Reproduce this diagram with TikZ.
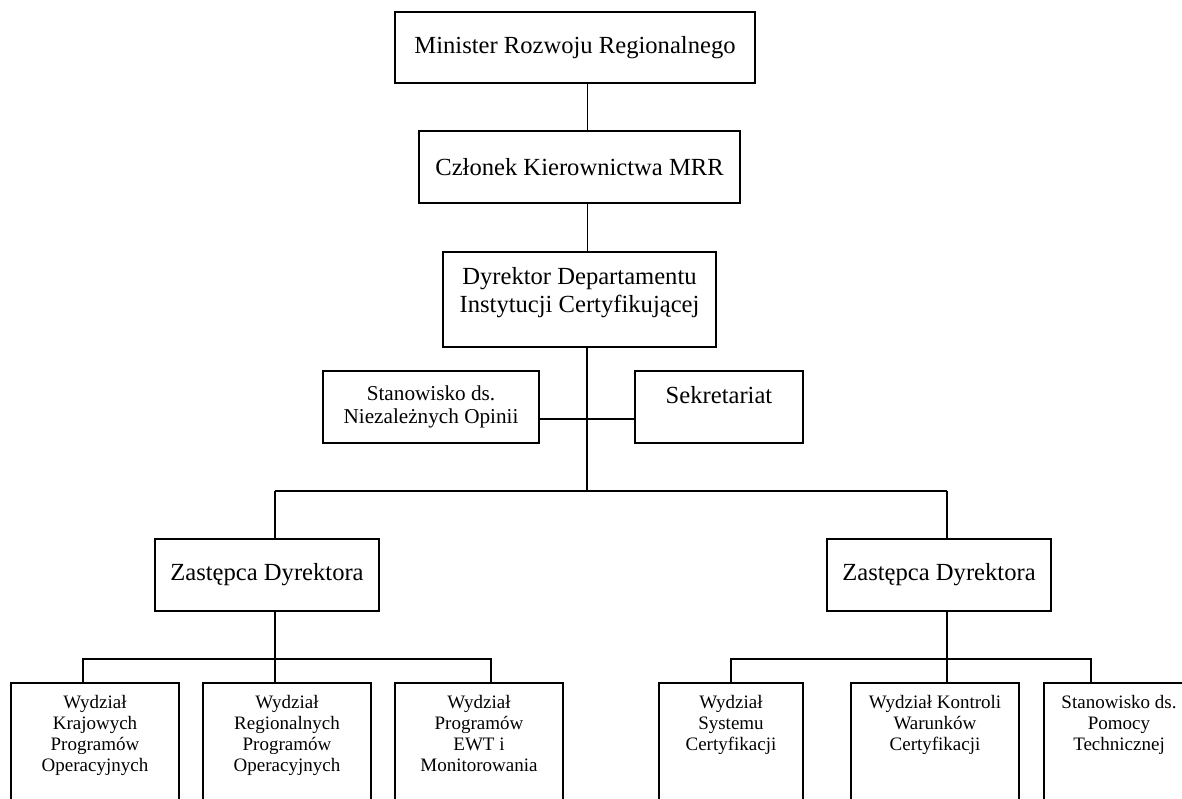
\documentclass[tikz,border=0pt]{standalone}
\usepackage{fontspec}
\setmainfont{Liberation Serif}

\begin{document}
\begin{tikzpicture}[x=0.5pt, y=-0.5pt,
    box/.style={draw, line width=0.85pt, inner sep=0pt, align=center},
    big/.style={font=\fontsize{12.3}{14}\selectfont},
    mid/.style={font=\fontsize{10.6}{11.5}\selectfont},
    small/.style={font=\fontsize{9.5}{10.5}\selectfont},
    intop/.style={anchor=north, inner sep=0pt, align=center},
    link/.style={line width=0.75pt},
    thinlink/.style={line width=0.5pt}]
  \useasboundingbox (0,0) rectangle (1182,798);
  \clip (0,0) rectangle (1182,798);

  \node[box, big, minimum width=180pt, minimum height=35.5pt] (min) at (575,47.5) {Minister Rozwoju Regionalnego};
  \node[box, big, minimum width=160.5pt, minimum height=36pt] (czl) at (579.5,167) {Członek Kierownictwa MRR};
  \node[box, minimum width=136.5pt, minimum height=47.5pt,
    label={[intop, big, yshift=-8pt]north:{Dyrektor Departamentu\\Instytucji Certyfikującej}}] (dyr) at (579.5,299.5) {};
  \node[box, mid, minimum width=108pt, minimum height=36pt] (sno) at (431,407) {Stanowisko ds.\\Niezależnych Opinii};
  \node[box, minimum width=84pt, minimum height=36pt,
    label={[intop, big, yshift=-8pt]north:{Sekretariat}}] (sek) at (719,407) {};

  \node[box, big, minimum width=112pt, minimum height=36pt] (zl) at (267,575) {Zastępca Dyrektora};
  \node[box, big, minimum width=112pt, minimum height=36pt] (zr) at (939,575) {Zastępca Dyrektora};

  \node[box, minimum width=84pt, minimum height=73.5pt,
    label={[intop, small, yshift=-6.5pt]north:{Wydział\\Krajowych\\Programów\\Operacyjnych}}] (wkp) at (95,756.5) {};
  \node[box, minimum width=84pt, minimum height=73.5pt,
    label={[intop, small, yshift=-6.5pt]north:{Wydział\\Regionalnych\\Programów\\Operacyjnych}}] (wrp) at (287,756.5) {};
  \node[box, minimum width=84pt, minimum height=73.5pt,
    label={[intop, small, yshift=-6.5pt]north:{Wydział\\Programów\\EWT i\\Monitorowania}}] (wpe) at (479,756.5) {};
  \node[box, minimum width=72pt, minimum height=73.5pt,
    label={[intop, small, yshift=-6.5pt]north:{Wydział\\Systemu\\Certyfikacji}}] (wsc) at (731,756.5) {};
  \node[box, minimum width=84pt, minimum height=73.5pt,
    label={[intop, small, yshift=-6.5pt]north:{Wydział Kontroli\\Warunków\\Certyfikacji}}] (wkw) at (935,756.5) {};
  \node[box, minimum width=75pt, minimum height=73.5pt,
    label={[intop, small, yshift=-6.5pt]north:{Stanowisko ds.\\Pomocy\\Technicznej}}] (spt) at (1119,756.5) {};

  % junction points of the lines
  \coordinate (spine) at (587,419);
  \coordinate (barm) at (587,491);
  \coordinate (barl) at (275,491);
  \coordinate (barr) at (947,491);
  \coordinate (subl) at (275,659);
  \coordinate (subr) at (947,659);
  \coordinate (subll) at (83,659);
  \coordinate (sublr) at (491,659);
  \coordinate (subrl) at (731,659);
  \coordinate (subrr) at (1091,659);

  \draw[thinlink] (min.south -| spine) -- (czl.north -| spine);
  \draw[thinlink] (czl.south -| spine) -- (dyr.north -| spine);
  \draw[link] (dyr.south -| spine) -- (barm);
  \draw[link] (sno.east |- spine) -- (sek.west |- spine);
  \draw[link] (barl) -- (barr);
  \draw[link] (barl) -- (zl.north -| barl);
  \draw[link] (barr) -- (zr.north -| barr);

  \draw[link] (zl.south -| subl) -- (subl);
  \draw[link] (wkp.north -| subll) -- (subll) -- (sublr) -- (wpe.north -| sublr);
  \draw[link] (subl) -- (wrp.north -| subl);
  \draw[link] (zr.south -| subr) -- (subr);
  \draw[link] (wsc.north -| subrl) -- (subrl) -- (subrr) -- (spt.north -| subrr);
  \draw[link] (subr) -- (wkw.north -| subr);
\end{tikzpicture}
\end{document}
